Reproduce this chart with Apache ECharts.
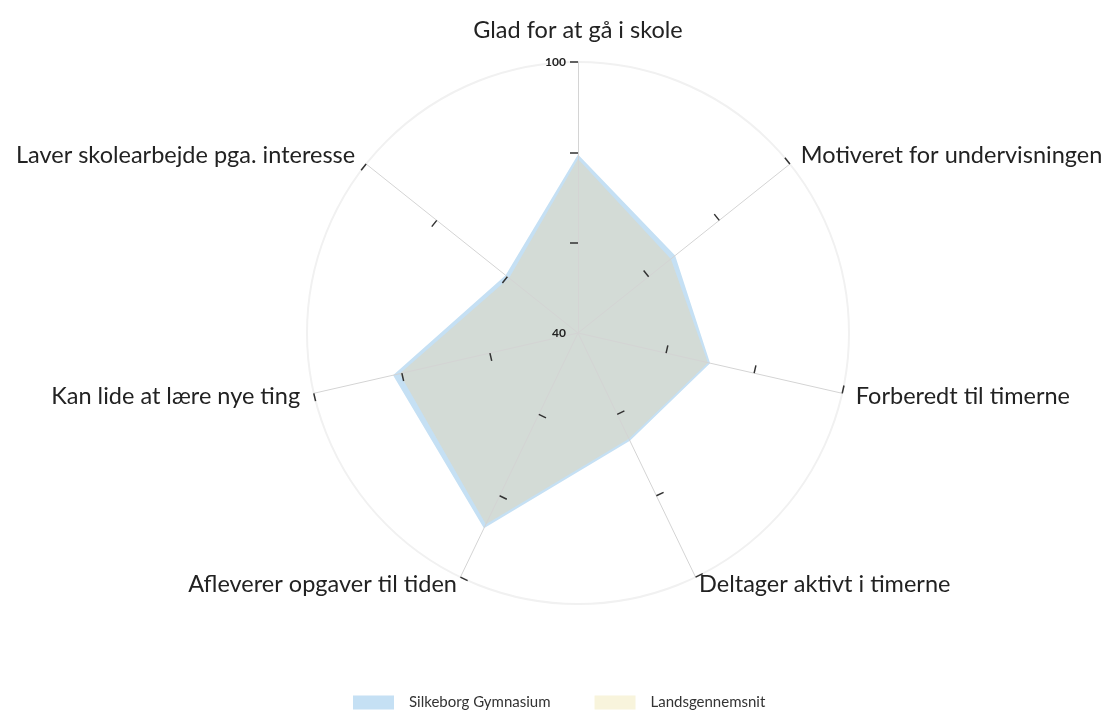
<!DOCTYPE html>
<html>
<head>
<meta charset="utf-8">
<script src="https://cdn.jsdelivr.net/npm/echarts@6/dist/echarts.min.js"></script>
<style>
  html, body { margin: 0; padding: 0; background: #fff; }
  #chart { width: 1112px; height: 714px; }
</style>
</head>
<body>
<div id="chart"></div>
<script>
// indicators in ECharts order (counter-clockwise from top)
const indicatorNames = [
  "Glad for at gå i skole",
  "Laver skolearbejde pga. interesse",
  "Kan lide at lære nye ting",
  "Afleverer opgaver til tiden",
  "Deltager aktivt i timerne",
  "Forberedt til timerne",
  "Motiveret for undervisningen"
];
const seriesNames = ["Silkeborg Gymnasium", "Landsgennemsnit"];
const silkeborg = [79.5, 60.5, 82, 88, 66.5, 70, 67.5];
const landsgennemsnit = [78.5, 59.5, 80.5, 87, 66, 69.5, 66.3];
const tickValues = [60, 80, 100];
const labelValues = [40, 100];
// name gap per indicator (top and bottom labels sit a bit differently)
const nameGaps = [20, 14, 14, 8, 8, 14, 14];

const chart = echarts.init(document.getElementById("chart"));

const indicators = indicatorNames.map((n, i) => {
  const ind = { name: n, min: 40, max: 100, nameGap: nameGaps[i] };
  if (i === 0) {
    ind.axisLabel = {
      show: true,
      customValues: labelValues,
      color: "#222",
      fontWeight: "bold",
      fontSize: 12,
      fontFamily: "Lato",
      margin: 12
    };
  }
  return ind;
});

chart.setOption({
  animation: false,
  legend: {
    left: 348,
    top: 690,
    itemWidth: 41,
    itemHeight: 14,
    itemGap: 44,
    icon: "rect",
    textStyle: { fontFamily: "Lato", fontSize: 15, color: "#333", padding: [0, 0, 0, 10] },
    data: [
      { name: seriesNames[0], itemStyle: { color: "#c5e0f4" } },
      { name: seriesNames[1], itemStyle: { color: "#f8f4dc" } }
    ]
  },
  radar: {
    center: [578, 333],
    radius: 271,
    shape: "circle",
    z: 5,
    splitNumber: 3,
    nameGap: 14,
    axisName: { color: "#222", fontFamily: "Lato", fontSize: 23.5 },
    indicator: indicators,
    axisLine: { lineStyle: { color: "#d4d4d4", width: 1 } },
    axisTick: {
      show: true,
      customValues: tickValues,
      length: 8,
      lineStyle: { color: "#333", width: 1.5 }
    },
    axisLabel: { show: false },
    splitLine: {
      lineStyle: {
        color: ["rgba(0,0,0,0)", "rgba(0,0,0,0)", "#f1f1f1"],
        width: 2
      }
    },
    splitArea: { show: false }
  },
  series: [{
    type: "radar",
    symbol: "none",
    data: [
      {
        name: seriesNames[0],
        value: silkeborg,
        lineStyle: { width: 0, color: "#c5e0f4" },
        itemStyle: { color: "#c5e0f4" },
        areaStyle: { color: "#c5e0f4", opacity: 1 }
      },
      {
        name: seriesNames[1],
        value: landsgennemsnit,
        lineStyle: { width: 0, color: "#d3dbd6" },
        itemStyle: { color: "#f8f4dc" },
        areaStyle: { color: "#d3dbd6", opacity: 1 }
      }
    ]
  }]
});
</script>
</body>
</html>
